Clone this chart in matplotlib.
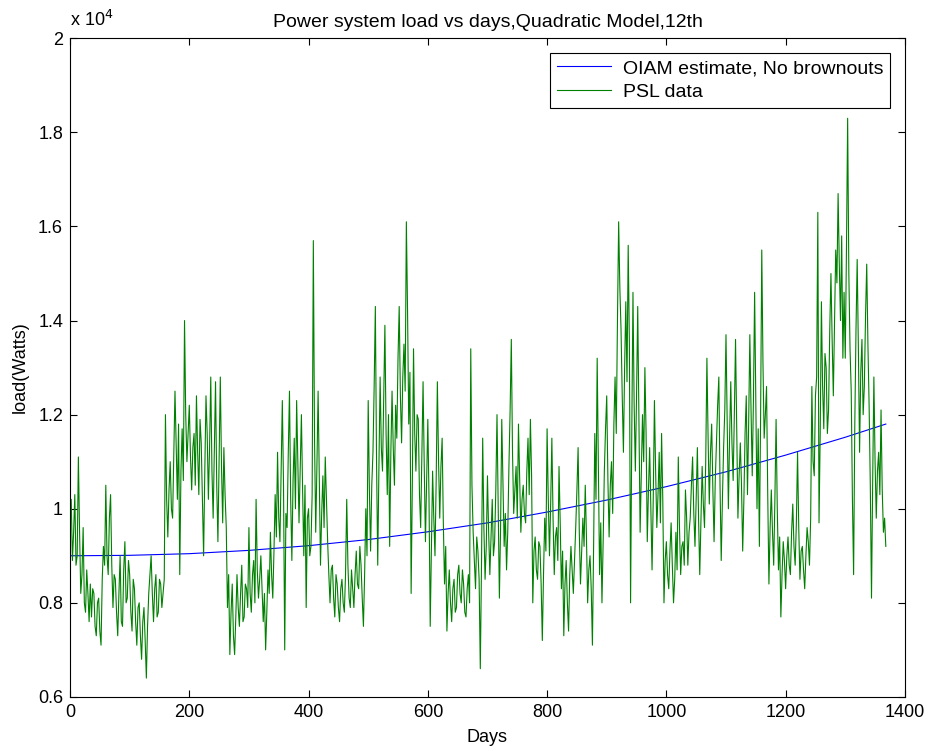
"""Power system load vs days, quadratic model fit against PSL data."""

import matplotlib

matplotlib.use('Agg')

import matplotlib.pyplot as plt
import numpy as np
from matplotlib.ticker import FuncFormatter

# PSL data, one value every 2 days
psl_load = [
    9800, 10200, 8900, 9500, 10300, 8800, 9000, 11100, 9500, 8200,
    8600, 9600, 8000, 7800, 8700, 8200, 7600, 8400, 7700, 8300,
    8200, 7500, 7300, 8000, 8100, 7400, 7100, 8500, 9200, 8800,
    10500, 9000, 8600, 9800, 10300, 8800, 7900, 8600, 8500, 7800,
    7300, 8200, 9000, 7600, 7500, 8700, 9300, 8000, 8100, 8900,
    8600, 7800, 7400, 8500, 8300, 7600, 7100, 7900, 8000, 7300,
    6800, 7600, 7900, 7200, 6400, 7500, 8200, 8600, 9000, 8200,
    7600, 8300, 8600, 7700, 7800, 8500, 8400, 7900, 8200, 8500,
    12000, 10200, 9400, 10400, 11000, 10000, 9800, 11200, 12500, 11400,
    10200, 11800, 8600, 10800, 11700, 10600, 14000, 12000, 11000, 11600,
    12200, 11100, 10400, 11300, 11600, 10500, 12400, 11200, 10300, 11900,
    11400, 10200, 9000, 10800, 12400, 11600, 10200, 11300, 12800, 10800,
    9800, 11200, 12700, 10500, 9300, 11000, 12800, 10900, 9700, 11300,
    10300, 9600, 7900, 8600, 6900, 7800, 8400, 7300, 6900, 7700,
    8600, 7900, 7500, 8200, 8800, 7600, 7700, 8400, 8300, 7900,
    9600, 8200, 7800, 8600, 8900, 8000, 10200, 8700, 8100, 8500,
    9000, 8300, 7600, 8200, 7000, 7800, 8700, 8200, 9500, 8600,
    8100, 9100, 10300, 9400, 11200, 9800, 9300, 10800, 12300, 10500,
    7000, 9900, 9600, 11200, 12500, 10200, 8900, 10600, 11500, 10000,
    12300, 11000, 9700, 10800, 12000, 10400, 9000, 10500, 7900, 9800,
    10000, 9000, 9200, 10300, 15700, 11500, 9500, 10900, 12500, 10600,
    8800, 9900, 10700, 9600, 11100, 10200, 9300, 8600, 8000, 8700,
    8800, 8100, 7700, 8600, 8400, 7900, 7600, 8300, 8500, 8000,
    7800, 8600, 10200, 8800, 8100, 7900, 8700, 8300, 7900, 8600,
    9100, 8400, 8300, 9200, 8800, 8100, 7500, 8600, 10000, 9000,
    12300, 10400, 9100, 10500, 11200, 12600, 14300, 11000, 8800, 10900,
    12800, 11300, 10800, 12400, 13900, 11600, 10300, 12000, 9200, 11200,
    12500, 11300, 10500, 12200, 11500, 13200, 14300, 12400, 11400, 12800,
    13500, 12500, 16100, 14200, 11800, 12900, 8200, 10500, 13400, 11600,
    10800, 12000, 11900, 10300, 9600, 11200, 12700, 10900, 9300, 10600,
    11900, 10200, 7500, 9100, 10800, 9800, 9000, 10600, 12700, 11000,
    9800, 10900, 11500, 9700, 8400, 9200, 7400, 8200, 8700, 8000,
    7600, 8300, 8500, 7800, 7900, 8600, 8800, 8200, 8000, 8700,
    8400, 7800, 7700, 8300, 8600, 8000, 13400, 10500, 9500, 8900,
    8300, 9400, 9100, 8500, 6600, 8800, 11500, 9600, 8500, 9200,
    10700, 9500, 8600, 9400, 10200, 9000, 9300, 10400, 12000, 10100,
    8100, 9600, 11900, 10500, 9200, 9900, 8700, 9500, 10900, 12100,
    13600, 11200, 9900, 10400, 10900, 9800, 11800, 10600, 9500, 10200,
    10500, 9900, 9700, 10800, 11500, 10300, 11900, 10700, 8000, 9100,
    9400, 8700, 8500, 9300, 9200, 8400, 7200, 8600, 9800, 9100,
    11700, 10200, 9000, 10100, 11500, 9800, 8600, 9400, 9600, 8900,
    10900, 9700, 8300, 9100, 7300, 8400, 8900, 8000, 7400, 8600,
    9200, 8700, 8200, 8900, 9600, 10400, 11300, 9500, 8400, 9100,
    9800, 9200, 10500, 9400, 8000, 8700, 9000, 8300, 7100, 9200,
    11600, 10200, 13200, 10900, 8600, 9700, 8000, 9300, 10800, 11700,
    12400, 10600, 9400, 10500, 11000, 9900, 11800, 12800, 11600, 14000,
    16100, 14700, 13800, 12400, 11200, 13000, 14400, 12700, 15600, 13500,
    8000, 11600, 14600, 12200, 10800, 12400, 14300, 11800, 9500, 10700,
    12000, 11000, 13000, 11600, 9300, 10400, 11300, 10000, 8700, 10200,
    12300, 10800, 9600, 10300, 11200, 9700, 11600, 10200, 8000, 8900,
    9300, 8600, 8300, 9100, 9700, 8800, 8000, 8500, 9500, 8700,
    11100, 9600, 8600, 9200, 9300, 8800, 10400, 9800, 8800, 9500,
    9800, 10500, 11100, 9900, 9200, 10200, 11300, 9800, 8600, 9700,
    10900, 10100, 9600, 11000, 13200, 11500, 10100, 11200, 11800, 10400,
    9300, 10600, 11400, 12200, 12800, 10500, 8900, 10200, 11300, 12100,
    13700, 11800, 10000, 11500, 12700, 11400, 10600, 12000, 13600, 11700,
    9800, 10700, 11400, 10500, 9100, 10200, 11600, 12400, 10300, 11800,
    13700, 12100, 10700, 12300, 14600, 12200, 10000, 11700, 9200, 11900,
    15500, 13100, 11500, 12000, 12600, 10300, 8400, 9600, 10400, 9500,
    8800, 10200, 11900, 10000, 8700, 9400, 7700, 8600, 9300, 8900,
    8300, 9000, 9400, 8800, 8600, 9500, 10100, 9200, 8800, 9700,
    11200, 9600, 8500, 9100, 9200, 8700, 8300, 9000, 9600, 9300,
    8800, 9800, 12600, 11000, 10700, 12400, 12800, 16300, 9700, 11600,
    14400, 12600, 11700, 13300, 13000, 11600, 12100, 13800, 15000, 13600,
    12400, 13900, 15500, 14800, 16700, 15200, 14000, 15800, 13200, 14600,
    13200, 15500, 18300, 15000, 13400, 12500, 10200, 8600, 11800, 13800,
    15300, 13400, 11200, 12900, 13600, 12000, 12600, 14100, 15200, 13500,
    12200, 10500, 8100, 10600, 12800, 11000, 9800, 10800, 11200, 10300,
    12100, 10400, 9500, 9800, 9200,
]
psl_days = np.arange(0, 2 * len(psl_load), 2)

# quadratic model estimate
model_days = [0, 100, 200, 300, 400, 500, 600, 700, 800, 900, 1000, 1100, 1200, 1300, 1368]
model_load = [9000, 9010, 9045, 9115, 9215, 9345, 9510, 9700, 9930, 10185, 10470, 10785,
              11140, 11520, 11800]

plt.rcParams['font.family'] = ['Liberation Sans', 'DejaVu Sans']

fig = plt.figure(figsize=(9.3, 7.51), dpi=100)
ax = fig.add_axes([0.0753, 0.072, 0.8977, 0.877])

ax.plot(model_days, model_load, color='#0000ff', lw=0.8, label='OIAM estimate, No brownouts')
ax.plot(psl_days, psl_load, color='#008000', lw=0.8, label='PSL data')

ax.set_xlim(0, 1400)
ax.set_ylim(6000, 20000)
ax.set_xticks(range(0, 1401, 200))
ax.set_yticks(range(6000, 20001, 2000))
ax.yaxis.set_major_formatter(FuncFormatter(lambda v, _: f'{v / 1e4:g}'))
ax.tick_params(direction='in', top=True, right=True, length=5, labelsize=13, pad=5)

ax.text(0, 1.012, r'x 10$^{4}$', transform=ax.transAxes, fontsize=13, va='bottom', ha='left')
ax.set_title('Power system load vs days,Quadratic Model,12th', fontsize=14, pad=8)
ax.set_xlabel('Days', fontsize=13, labelpad=6)
ax.set_ylabel('load(Watts)', fontsize=13)
ax.yaxis.set_label_coords(-0.05, 0.5)

leg = ax.legend(loc='upper right', fontsize=14, fancybox=False, framealpha=1,
                edgecolor='black', handlelength=2.8, handletextpad=0.6,
                labelspacing=0.3, borderpad=0.35, borderaxespad=0.75)
leg.get_frame().set_linewidth(0.8)

fig.savefig('out.png', dpi=100)
